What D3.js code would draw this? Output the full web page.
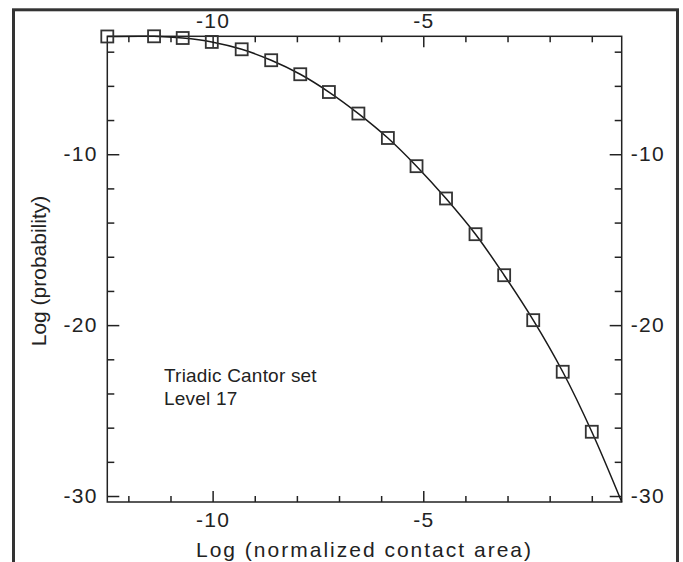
<!DOCTYPE html>
<html>
<head>
<meta charset="utf-8">
<script src="https://cdn.jsdelivr.net/npm/d3@7"></script>
<style>
  body { margin: 0; background: #fff; }
  svg text { font-family: "Liberation Sans", Arial, sans-serif; fill: #222; }
</style>
</head>
<body>
<div id="chart"></div>
<script>
// values
const probX = [-12.50, -11.39, -10.71, -10.02, -9.31, -8.61, -7.92, -7.24, -6.54,
  -5.84, -5.16, -4.46, -3.76, -3.08, -2.39, -1.69, -1.00];
const probY = [-3.11, -3.10, -3.20, -3.43, -3.86, -4.50, -5.32, -6.36, -7.62,
  -9.05, -10.70, -12.59, -14.68, -17.08, -19.71, -22.73, -26.24];
// the solid curve runs on to the bottom right corner
const curveEndX = [-0.29];
const curveEndY = [-30.35];

const xDomain = [-12.5, -0.29];
const yDomain = [-30.35, -3.1];
const xMajor = [-10, -5];
const xMinor = [-12, -11, -9, -8, -7, -6, -4, -3, -2, -1];
const yMajor = [-10, -20, -30];
const yMinor = [-4, -6, -8, -12, -14, -16, -18, -22, -24, -26, -28];

const width = 683, height = 562;
const margin = { top: 36.3, right: 61.3, bottom: 60, left: 107.3 };

const svg = d3.select("#chart")
  .append("svg")
  .attr("width", width)
  .attr("height", height);

// outer frame of the figure (bottom edge runs off the page)
svg.append("rect")
  .attr("x", 13.5)
  .attr("y", 9.8)
  .attr("width", 664)
  .attr("height", 620)
  .attr("fill", "none")
  .attr("stroke", "#333")
  .attr("stroke-width", 3);

const x = d3.scaleLinear()
  .domain(xDomain)
  .range([margin.left, width - margin.right]);

const y = d3.scaleLinear()
  .domain(yDomain)
  .range([height - margin.bottom, margin.top]);

function tickLines(g) {
  g.select(".domain").remove();
  g.selectAll("line").attr("stroke", "#222").attr("stroke-width", 1.5);
}

function styleAxis(g) {
  tickLines(g);
  // plain hyphen like the original, not the unicode minus
  g.selectAll("text")
    .attr("font-size", 21)
    .attr("letter-spacing", "1.3px")
    .attr("fill", "#222")
    .text(d => String(d));
}

const x0 = y.range()[0], x1 = y.range()[1];
const yl = x.range()[0], yr = x.range()[1];

// bottom
svg.append("g").attr("transform", `translate(0,${x0})`)
  .call(d3.axisBottom(x).tickValues(xMajor).tickSize(-11).tickPadding(10))
  .call(styleAxis);
svg.append("g").attr("transform", `translate(0,${x0})`)
  .call(d3.axisBottom(x).tickValues(xMinor).tickSize(-6).tickFormat(""))
  .call(tickLines);

// top
svg.append("g").attr("transform", `translate(0,${x1})`)
  .call(d3.axisTop(x).tickValues(xMajor).tickSize(-11).tickPadding(8))
  .call(styleAxis);
svg.append("g").attr("transform", `translate(0,${x1})`)
  .call(d3.axisTop(x).tickValues(xMinor).tickSize(-6).tickFormat(""))
  .call(tickLines);

// left
svg.append("g").attr("transform", `translate(${yl},0)`)
  .call(d3.axisLeft(y).tickValues(yMajor).tickSize(-12).tickPadding(9.6))
  .call(styleAxis);
svg.append("g").attr("transform", `translate(${yl},0)`)
  .call(d3.axisLeft(y).tickValues(yMinor).tickSize(-7).tickFormat(""))
  .call(tickLines);

// right
svg.append("g").attr("transform", `translate(${yr},0)`)
  .call(d3.axisRight(y).tickValues(yMajor).tickSize(-12).tickPadding(9))
  .call(styleAxis);
svg.append("g").attr("transform", `translate(${yr},0)`)
  .call(d3.axisRight(y).tickValues(yMinor).tickSize(-7).tickFormat(""))
  .call(tickLines);

// plot frame
svg.append("rect")
  .attr("x", yl)
  .attr("y", x1)
  .attr("width", yr - yl)
  .attr("height", x0 - x1)
  .attr("fill", "none")
  .attr("stroke", "#222")
  .attr("stroke-width", 1.5);

// smooth curve through the points
const pts = probX.concat(curveEndX).map((v, i) => [v, probY.concat(curveEndY)[i]]);
const line = d3.line()
  .x(d => x(d[0]))
  .y(d => y(d[1]))
  .curve(d3.curveCatmullRom.alpha(0.5));

svg.append("path")
  .datum(pts)
  .attr("d", line)
  .attr("fill", "none")
  .attr("stroke", "#1a1a1a")
  .attr("stroke-width", 1.5);

// open squares
const s = 12;
svg.append("g")
  .selectAll("rect")
  .data(probX.map((v, i) => [v, probY[i]]))
  .join("rect")
  .attr("x", d => x(d[0]) - s / 2)
  .attr("y", d => y(d[1]) - s / 2)
  .attr("width", s)
  .attr("height", s)
  .attr("fill", "none")
  .attr("stroke", "#333")
  .attr("stroke-width", 1.8);

// axis titles
svg.append("text")
  .attr("x", (yl + yr) / 2)
  .attr("y", 556.7)
  .attr("text-anchor", "middle")
  .attr("font-size", 21)
  .attr("letter-spacing", "2px")
  .text("Log (normalized contact area)");

svg.append("text")
  .attr("transform", "translate(46,271) rotate(-90)")
  .attr("text-anchor", "middle")
  .attr("font-size", 21)
  .text("Log (probability)");

// annotation
const note = svg.append("text")
  .attr("x", 164)
  .attr("y", 382)
  .attr("font-size", 19)
  .attr("letter-spacing", "0.2px");
note.append("tspan").attr("x", 164).text("Triadic Cantor set");
note.append("tspan").attr("x", 164).attr("dy", 23).text("Level 17");
</script>
</body>
</html>
